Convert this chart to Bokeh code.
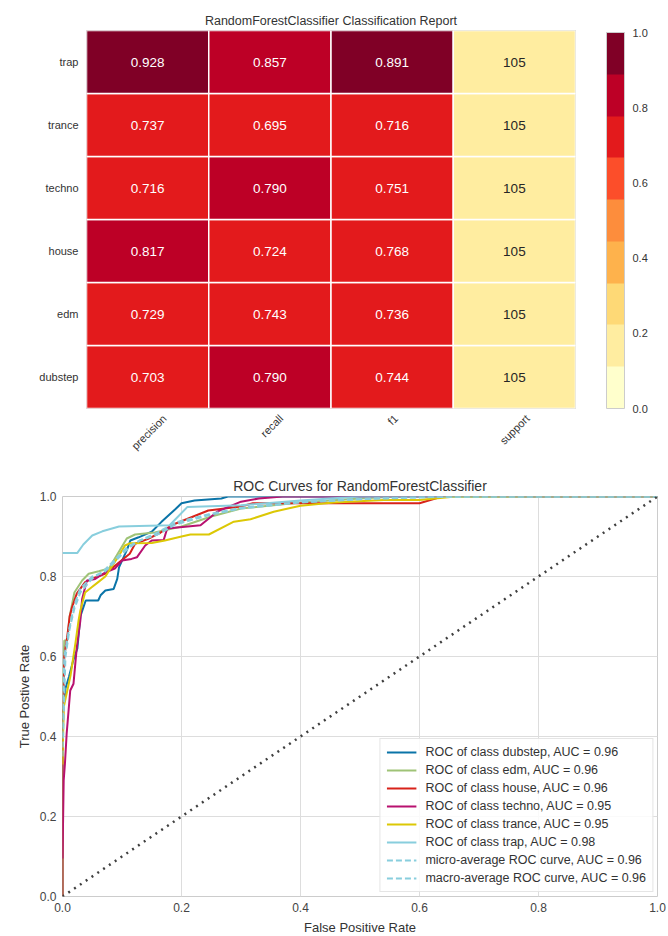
from math import pi
from bokeh.plotting import figure
from bokeh.models import (ColumnDataSource, LinearColorMapper, ColorBar, FixedTicker,
                          Legend, LegendItem, PrintfTickFormatter)
from bokeh.embed import file_html
from bokeh.resources import INLINE
from bokeh.core.properties import value

FONT = "Liberation Sans"
TXT = "#333333"

# ---------------- Classification report data ----------------
classes = ["dubstep", "edm", "house", "techno", "trance", "trap"]
metrics = ["precision", "recall", "f1", "support"]
precision = [0.703, 0.729, 0.817, 0.716, 0.737, 0.928]
recall = [0.790, 0.743, 0.724, 0.790, 0.695, 0.857]
f1 = [0.744, 0.736, 0.768, 0.751, 0.716, 0.891]
support = [105, 105, 105, 105, 105, 105]
colorbar_ticks = [0.0, 0.2, 0.4, 0.6, 0.8, 1.0]
palette = ["#ffffcc", "#ffeda0", "#fed976", "#feb24c", "#fd8d3c",
           "#fc4e2a", "#e31a1c", "#bd0026", "#800026"]

# ---------------- ROC data ----------------
dubstep_fpr = [0, 0.0, 0.005, 0.011, 0.018, 0.025, 0.03, 0.039, 0.06, 0.064, 0.072, 0.086, 0.092, 0.095, 0.109, 0.114, 0.128, 0.15, 0.166, 0.19, 0.2, 0.222, 0.267, 0.278, 1.0]
dubstep_tpr = [0, 0.45, 0.52, 0.55, 0.59, 0.62, 0.70, 0.74, 0.74, 0.753, 0.765, 0.769, 0.794, 0.823, 0.869, 0.89, 0.898, 0.912, 0.936, 0.969, 0.983, 0.99, 0.995, 1.0, 1.0]
edm_fpr = [0, 0.0, 0.003, 0.008, 0.012, 0.02, 0.033, 0.044, 0.061, 0.078, 0.094, 0.108, 0.122, 0.155, 0.2, 0.25, 0.3, 0.4, 0.5, 0.56, 1.0]
edm_tpr = [0, 0.5, 0.64, 0.64, 0.70, 0.76, 0.79, 0.807, 0.813, 0.82, 0.86, 0.895, 0.905, 0.91, 0.925, 0.95, 0.97, 0.985, 0.995, 1.0, 1.0]
house_fpr = [0, 0.0, 0.003, 0.008, 0.012, 0.016, 0.024, 0.038, 0.049, 0.0715, 0.085, 0.099, 0.113, 0.122, 0.144, 0.165, 0.183, 0.245, 0.3, 0.32, 0.6, 0.638, 1.0]
house_tpr = [0, 0.35, 0.60, 0.65, 0.70, 0.723, 0.757, 0.786, 0.794, 0.807, 0.823, 0.84, 0.857, 0.882, 0.894, 0.91, 0.928, 0.965, 0.975, 0.983, 0.983, 1.0, 1.0]
techno_fpr = [0, 0.002, 0.004, 0.007, 0.013, 0.0185, 0.024, 0.03, 0.033, 0.041, 0.055, 0.0715, 0.088, 0.1, 0.116, 0.125, 0.139, 0.15, 0.17, 0.176, 0.232, 0.26, 0.3, 0.33, 0.37, 1.0]
techno_tpr = [0.095, 0.29, 0.33, 0.407, 0.515, 0.532, 0.623, 0.69, 0.744, 0.79, 0.794, 0.81, 0.82, 0.84, 0.844, 0.848, 0.8775, 0.89, 0.891, 0.92, 0.928, 0.962, 0.987, 0.995, 1.0, 1.0]
trance_fpr = [0, 0.002, 0.0135, 0.022, 0.027, 0.03, 0.038, 0.049, 0.06, 0.072, 0.094, 0.105, 0.113, 0.15, 0.172, 0.2, 0.215, 0.246, 0.288, 0.316, 0.355, 0.4, 0.456, 0.54, 0.6, 0.652, 0.8, 1.0]
trance_tpr = [0.33, 0.473, 0.5525, 0.636, 0.69, 0.715, 0.76, 0.773, 0.786, 0.8, 0.85, 0.8775, 0.883, 0.884, 0.89, 0.9, 0.905, 0.905, 0.937, 0.943, 0.962, 0.977, 0.985, 0.991, 0.991, 0.999, 1.0, 1.0]
trap_fpr = [0, 0.025, 0.035, 0.05, 0.067, 0.095, 0.18, 0.21, 0.3, 0.4, 0.5, 1.0]
trap_tpr = [0.859, 0.859, 0.88, 0.9025, 0.913, 0.925, 0.928, 0.974, 0.978, 0.99, 1.0, 1.0]
micro_fpr = [0, 0.003, 0.01, 0.02, 0.03, 0.05, 0.07, 0.09, 0.11, 0.13, 0.16, 0.19, 0.25, 0.3, 0.4, 0.5, 0.6, 0.7, 1.0]
micro_tpr = [0.4, 0.6, 0.66, 0.73, 0.77, 0.8, 0.81, 0.84, 0.87, 0.89, 0.905, 0.93, 0.955, 0.97, 0.985, 0.993, 0.998, 1.0, 1.0]
macro_fpr = [0, 0.005, 0.012, 0.02, 0.03, 0.05, 0.07, 0.09, 0.11, 0.13, 0.16, 0.19, 0.25, 0.3, 0.4, 0.5, 0.65, 1.0]
macro_tpr = [0.35, 0.6, 0.67, 0.72, 0.76, 0.795, 0.815, 0.845, 0.875, 0.89, 0.91, 0.935, 0.957, 0.972, 0.986, 0.994, 1.0, 1.0]
diag = [0.0, 1.0]
roc_ticks = [0.0, 0.2, 0.4, 0.6, 0.8, 1.0]

curves = [
    ("ROC of class dubstep, AUC = 0.96", dubstep_fpr, dubstep_tpr, "#0a74a8", None),
    ("ROC of class edm, AUC = 0.96", edm_fpr, edm_tpr, "#9fc377", None),
    ("ROC of class house, AUC = 0.96", house_fpr, house_tpr, "#d8221a", None),
    ("ROC of class techno, AUC = 0.95", techno_fpr, techno_tpr, "#b8116f", None),
    ("ROC of class trance, AUC = 0.95", trance_fpr, trance_tpr, "#dcc805", None),
    ("ROC of class trap, AUC = 0.98", trap_fpr, trap_tpr, "#88cedd", None),
    ("micro-average ROC curve, AUC = 0.96", micro_fpr, micro_tpr, "#88cedd", "6 3"),
    ("macro-average ROC curve, AUC = 0.96", macro_fpr, macro_tpr, "#88cedd", "6 3"),
]

# ---------------- Heatmap figure ----------------
mapper = LinearColorMapper(palette=palette, low=0, high=1)
total = sum(support)
xs, ys, cv, tx, tc = [], [], [], [], []
for j, c in enumerate(classes):
    for i, v in enumerate([precision[j], recall[j], f1[j]]):
        xs.append(i + 0.5); ys.append(j + 0.5); cv.append(v)
        tx.append(f"{v:.3f}"); tc.append("white")
    xs.append(3.5); ys.append(j + 0.5); cv.append(support[j] / total)
    tx.append(str(support[j])); tc.append("#262626")
src = ColumnDataSource(dict(x=xs, y=ys, c=cv, t=tx, tc=tc))

FW1 = 489
p1 = figure(frame_width=FW1, frame_height=378, x_range=(0, 4), y_range=(0, 6),
            toolbar_location=None, output_backend="svg",
            min_border_left=86, min_border_right=93, min_border_top=30, min_border_bottom=57,
            title="RandomForestClassifier Classification Report")
p1.title.align = "center"
p1.title.text_font = FONT
p1.title.text_font_size = "12.5px"
p1.title.text_font_style = "normal"
p1.title.text_color = TXT
p1.title.standoff = 6
p1.rect(x="x", y="y", width=1, height=1, source=src,
        fill_color={"field": "c", "transform": mapper}, line_color="white", line_width=1.5)
p1.text(x="x", y="y", text="t", text_color="tc", source=src, text_align="center",
        text_baseline="middle", text_font=value(FONT), text_font_size="13.5px")
p1.grid.visible = False
p1.outline_line_color = "#cccccc"
# rotated labels centred on their columns (Bokeh anchors the label's end at the tick)
px_per_unit = FW1 / 4
xt = [round(i + 0.5 + len(m) * 5.3 * 0.354 / px_per_unit, 4) for i, m in enumerate(metrics)]
p1.xaxis.ticker = FixedTicker(ticks=xt)
p1.xaxis.major_label_overrides = {t: m for t, m in zip(xt, metrics)}
p1.xaxis.major_label_orientation = pi / 4
p1.yaxis.ticker = FixedTicker(ticks=[j + 0.5 for j in range(len(classes))])
p1.yaxis.major_label_overrides = {j + 0.5: c for j, c in enumerate(classes)}
for ax in (p1.xaxis, p1.yaxis):
    ax.major_tick_line_color = None
    ax.minor_tick_line_color = None
    ax.major_tick_out = 0
    ax.major_tick_in = 0
    ax.axis_line_color = None
    ax.major_label_text_font = FONT
    ax.major_label_text_font_size = "11px"
    ax.major_label_text_color = TXT
p1.yaxis.major_label_standoff = 8
p1.xaxis.major_label_standoff = 8
cb = ColorBar(color_mapper=mapper, ticker=FixedTicker(ticks=colorbar_ticks),
              formatter=PrintfTickFormatter(format="%.1f"), width=18, height=376,
              location=(31, 0), padding=0, margin=0, major_tick_line_color=None,
              bar_line_color="#cccccc", major_label_text_font=FONT,
              major_label_text_font_size="11px", major_label_text_color=TXT,
              label_standoff=8, border_line_color=None, background_fill_color=None)
p1.add_layout(cb, "right")

# ---------------- ROC figure ----------------
p2 = figure(frame_width=595, frame_height=400, x_range=(0, 1), y_range=(0, 1),
            toolbar_location=None, output_backend="svg",
            min_border_left=62, min_border_right=11, min_border_top=31, min_border_bottom=40,
            title="ROC Curves for RandomForestClassifier")
p2.title.align = "center"
p2.title.text_font = FONT
p2.title.text_font_size = "14px"
p2.title.text_font_style = "normal"
p2.title.text_color = TXT
p2.title.standoff = 6
items = []
for label, xv, yv, col, dash in curves:
    if dash:
        r = p2.line(xv, yv, line_color=col, line_width=2, line_dash=dash)
    else:
        r = p2.line(xv, yv, line_color=col, line_width=2)
    items.append(LegendItem(label=label, renderers=[r]))
p2.line(diag, diag, line_color="#404040", line_width=2.5, line_dash="2 5")
for ax in (p2.xaxis, p2.yaxis):
    ax.ticker = FixedTicker(ticks=roc_ticks)
    ax.formatter = PrintfTickFormatter(format="%.1f")
    ax.major_tick_line_color = None
    ax.minor_tick_line_color = None
    ax.major_tick_out = 0
    ax.major_tick_in = 0
    ax.axis_line_color = None
    ax.major_label_text_font = FONT
    ax.major_label_text_font_size = "12px"
    ax.major_label_text_color = "#444444"
    ax.axis_label_text_font = FONT
    ax.axis_label_text_font_size = "13px"
    ax.axis_label_text_font_style = "normal"
    ax.axis_label_text_color = TXT
    ax.major_label_standoff = 6
    ax.axis_label_standoff = 5
p2.xaxis.axis_label = "False Positive Rate"
p2.yaxis.axis_label = "True Postive Rate"
p2.grid.grid_line_color = "#dddddd"
p2.grid.grid_line_width = 1
p2.outline_line_color = "#cccccc"
leg = Legend(items=items, location="bottom_right", label_text_font=FONT,
             label_text_font_size="12.5px", label_text_color=TXT, glyph_width=30,
             glyph_height=14, label_height=14, spacing=4, padding=6, margin=4,
             label_standoff=9, border_line_color="#cccccc", background_fill_alpha=0.85)
p2.add_layout(leg)

open("out.html", "w").write(file_html([p1, p2], INLINE))
